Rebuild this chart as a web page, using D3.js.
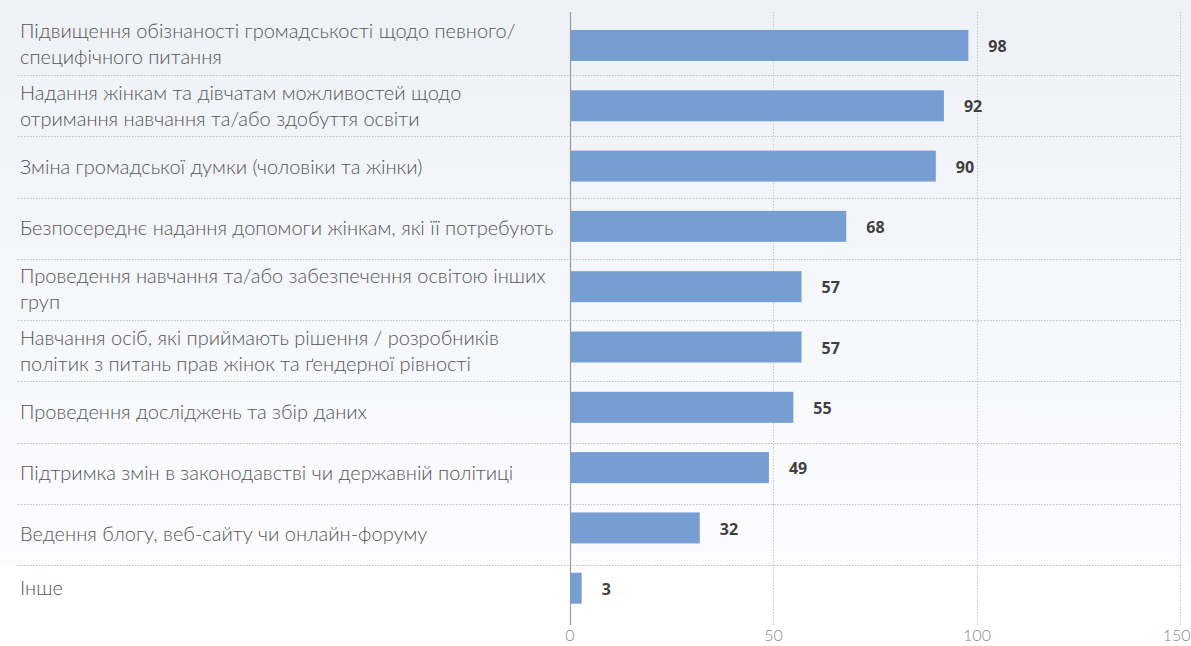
<!DOCTYPE html>
<html>
<head>
<meta charset="utf-8">
<script src="https://cdn.jsdelivr.net/npm/d3@7"></script>
<style>
  html, body { margin: 0; padding: 0; background: #fff; }
  svg { display: block; }
</style>
</head>
<body>
<svg id="chart" width="1191" height="646"></svg>
<script>
// Activity categories (line breaks mark wrapped labels)
const categories = [
  "Підвищення обізнаності громадськості щодо певного/\nспецифічного питання",
  "Надання жінкам та дівчатам можливостей щодо\nотримання навчання та/або здобуття освіти",
  "Зміна громадської думки (чоловіки та жінки)",
  "Безпосереднє надання допомоги жінкам, які її потребують",
  "Проведення навчання та/або забезпечення освітою інших\nгруп",
  "Навчання осіб, які приймають рішення / розробників\nполітик з питань прав жінок та ґендерної рівності",
  "Проведення досліджень та збір даних",
  "Підтримка змін в законодавстві чи державній політиці",
  "Ведення блогу, веб-сайту чи онлайн-форуму",
  "Інше"
];
const values = [98, 92, 90, 68, 57, 57, 55, 49, 32, 3];
const tickValues = [0, 50, 100, 150];

const svg = d3.select("#chart");
const W = 1191, H = 646;
const FONT = "Lato, 'Noto Sans', sans-serif";

// soft background wash
const defs = svg.append("defs");
const grad = defs.append("linearGradient").attr("id", "bg")
  .attr("x1", 0).attr("y1", 0).attr("x2", 0).attr("y2", 1);
grad.append("stop").attr("offset", "0%").attr("stop-color", "#eef1f7");
grad.append("stop").attr("offset", "87%").attr("stop-color", "#fcfcfe");
grad.append("stop").attr("offset", "88%").attr("stop-color", "#ffffff");
grad.append("stop").attr("offset", "100%").attr("stop-color", "#ffffff");
svg.append("rect").attr("width", W).attr("height", H).attr("fill", "url(#bg)");

const x = d3.scaleLinear().domain([0, 150]).range([569.5, 1180]);
// label rows (with dotted separators)
const rows = d3.scaleBand().domain(d3.range(categories.length)).range([13.75, 626.25]);
// bar slots
const yb = d3.scaleBand().domain(d3.range(categories.length)).range([15.3, 618.4]).paddingInner(0.486).paddingOuter(0.243);

const plotTop = 12, plotBottom = 625;

// vertical grid lines
svg.append("g").selectAll("line").data(tickValues.filter(t => t > 0)).join("line")
  .attr("x1", d => Math.round(x(d)) + 0.5).attr("x2", d => Math.round(x(d)) + 0.5)
  .attr("y1", plotTop).attr("y2", plotBottom)
  .attr("stroke", "#c8c8c8").attr("stroke-width", 1).attr("stroke-dasharray", "1.5,1.5");

// row separators
svg.append("g").selectAll("line").data(d3.range(1, categories.length)).join("line")
  .attr("x1", 18).attr("x2", 1181)
  .attr("y1", d => Math.round(rows(d)) + 0.5).attr("y2", d => Math.round(rows(d)) + 0.5)
  .attr("stroke", "#bdbdbd").attr("stroke-width", 1).attr("stroke-dasharray", "1.5,1.5");

// bars
svg.append("g").selectAll("rect").data(values).join("rect")
  .attr("x", x(0) + 1)
  .attr("y", (d, i) => yb(i))
  .attr("width", d => x(d) - x(0) - 1)
  .attr("height", yb.bandwidth())
  .attr("fill", "#769ed3");

// value labels
svg.append("g").selectAll("text").data(values).join("text")
  .attr("x", d => x(d) + 20)
  .attr("y", (d, i) => yb(i) + yb.bandwidth() / 2 + 1)
  .attr("dy", "0.35em")
  .attr("font-family", "'Open Sans', sans-serif")
  .attr("font-weight", 700)
  .attr("font-size", 16)
  .attr("fill", "#3f3f3f")
  .text(d => d);

// zero axis line
svg.append("line")
  .attr("x1", Math.round(x(0)) + 0.5).attr("x2", Math.round(x(0)) + 0.5)
  .attr("y1", plotTop).attr("y2", plotBottom)
  .attr("stroke", "#9a9a9a").attr("stroke-width", 1.2);

// bottom tick labels
const axis = d3.axisBottom(x).tickValues(tickValues).tickSize(0).tickPadding(0);
const ga = svg.append("g").attr("transform", `translate(0,${plotBottom + 5})`).call(axis);
ga.select(".domain").remove();
ga.selectAll("text")
  .attr("font-family", FONT).attr("font-weight", 300)
  .attr("font-size", 16).attr("fill", "#8a8a8a");
// keep the last tick label inside the frame
ga.selectAll(".tick").filter(d => d === 150).select("text")
  .attr("text-anchor", "end").attr("x", W - 1 - x(150));

// category labels
const lbl = svg.append("g").selectAll("text").data(categories).join("text")
  .attr("font-family", FONT).attr("font-weight", 300)
  .attr("font-size", 20).attr("fill", "#555555");
const LH = 26;
const last = categories.length - 1;
lbl.each(function (d, i) {
  const lines = d.split("\n");
  // last row sits level with its bar
  const cy = i === last ? yb(i) + yb.bandwidth() / 2 : rows(i) + rows.bandwidth() / 2;
  const y0 = cy - (lines.length - 1) * LH / 2;
  d3.select(this).selectAll("tspan").data(lines).join("tspan")
    .attr("x", 20)
    .attr("y", (l, k) => y0 + k * LH)
    .attr("dy", "0.35em")
    .text(l => l);
});
</script>
</body>
</html>
